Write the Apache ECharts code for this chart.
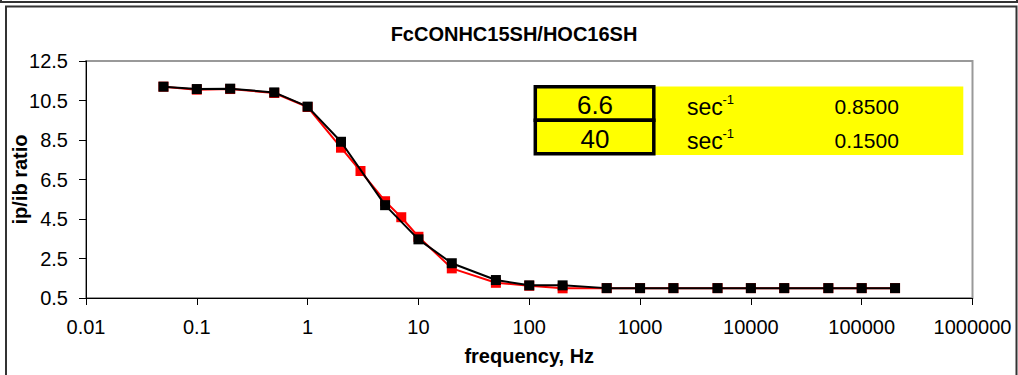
<!DOCTYPE html>
<html>
<head>
<meta charset="utf-8">
<script src="https://cdn.jsdelivr.net/npm/echarts@6/dist/echarts.min.js"></script>
<style>
html,body{margin:0;padding:0;background:#fff;}
#chart{width:1018px;height:375px;}
</style>
</head>
<body>
<div id="chart"></div>
<script>
var chartTitle = 'FcCONHC15SH/HOC16SH';
var xAxisTitle = 'frequency, Hz';
var yAxisTitle = 'ip/ib ratio';
var xTickLabels = ['0.01','0.1','1','10','100','1000','10000','100000','1000000'];

var freqRed  = [0.05,0.1,0.2,0.5,1,2,3,5,7,10,20,50,100,200,500,1000,2000,5000,10000,20000,50000,100000,200000];
var ratioRed = [11.2,11.05,11.08,10.88,10.17,8.11,6.93,5.4,4.59,3.6,2.0,1.27,1.12,0.99,1.0,1.0,1.0,1.0,1.0,1.0,1.0,1.0,1.0];

var freqBlack  = [0.05,0.1,0.2,0.5,1,2,5,10,20,50,100,200,500,1000,2000,5000,10000,20000,50000,100000,200000];
var ratioBlack = [11.2,11.08,11.1,10.91,10.19,8.41,5.2,3.47,2.26,1.41,1.14,1.14,1.0,1.0,1.0,1.0,1.0,1.0,1.0,1.0,1.0];

var tableRates = ['6.6','40'];
var tableUnits = ['sec','sec'];
var tableExps = ['-1','-1'];
var tableFractions = ['0.8500','0.1500'];

function pairs(xs, ys){ return xs.map(function(x,i){ return [x, ys[i]]; }); }

var FONT = "'Liberation Sans', Arial, sans-serif";
var chart = echarts.init(document.getElementById('chart'), null, {renderer:'svg'});

var graphics = [
  {type:'line', shape:{x1:0,y1:2,x2:1018,y2:2}, style:{stroke:'#333',lineWidth:2}},
  {type:'line', shape:{x1:1,y1:0,x2:1,y2:3}, style:{stroke:'#333',lineWidth:2}},
  {type:'line', shape:{x1:1017,y1:0,x2:1017,y2:3}, style:{stroke:'#333',lineWidth:2}},
  {type:'rect', shape:{x:6,y:6.5,width:1010.5,height:380}, style:{fill:null,stroke:'#333',lineWidth:2}},
  {type:'text', x:514, y:33.5, style:{text:chartTitle, font:'bold 20px '+FONT, fill:'#000', align:'center', verticalAlign:'middle'}},
  {type:'rect', shape:{x:535,y:86.5,width:428.3,height:68.5}, style:{fill:'#FFFF00'}, z:10}
];
var rowY = [103.5, 137.5];
for (var i=0;i<tableRates.length;i++){
  graphics.push({type:'rect', shape:{x:535.3,y:(i===0?86.7:120.3),width:118.5,height:(i===0?33.6:33.4)}, style:{fill:'#FFFF00',stroke:'#000',lineWidth:3.5}, z:11});
  graphics.push({type:'text', x:595, y:rowY[i]+1, style:{text:tableRates[i], font:'26px '+FONT, fill:'#000', align:'center', verticalAlign:'middle'}, z:12});
  graphics.push({type:'text', x:687, y:rowY[i]+3, style:{text:tableUnits[i], font:'23px '+FONT, fill:'#000', align:'left', verticalAlign:'middle'}, z:12});
  graphics.push({type:'text', x:722.5, y:rowY[i]-4, style:{text:tableExps[i], font:'13px '+FONT, fill:'#000', align:'left', verticalAlign:'middle'}, z:12});
  graphics.push({type:'text', x:866.7, y:rowY[i]+3, style:{text:tableFractions[i], font:'21px '+FONT, fill:'#000', align:'center', verticalAlign:'middle'}, z:12});
}

var option = {
  animation:false,
  backgroundColor:'#fff',
  textStyle:{fontFamily:FONT},
  grid:{left:86, top:61, right:45.5, bottom:77, show:true, borderColor:'#999', borderWidth:2, backgroundColor:'#fff', containLabel:false, outerBoundsMode:'none'},
  xAxis:{
    type:'log', logBase:10, min:0.01, max:1000000,
    name:xAxisTitle, nameLocation:'middle', nameGap:48, nameMoveOverlap:false,
    nameTextStyle:{fontFamily:FONT, fontSize:20, fontWeight:'bold', color:'#000'},
    axisLine:{show:true, onZero:false, lineStyle:{color:'#000', width:1}},
    axisTick:{show:true, inside:false, length:7, lineStyle:{color:'#000'}},
    minorTick:{show:false},
    splitLine:{show:false},
    axisLabel:{fontFamily:FONT, fontSize:20, color:'#000', margin:19, hideOverlap:false, showMinLabel:true, showMaxLabel:true,
      formatter:function(v){ var k=Math.round(Math.log(v)/Math.LN10)+2; return xTickLabels[k]!==undefined?xTickLabels[k]:String(v); }}
  },
  yAxis:{
    type:'value', min:0.5, max:12.5, interval:2,
    name:yAxisTitle, nameLocation:'middle', nameGap:56, nameRotate:90, nameMoveOverlap:false,
    nameTextStyle:{fontFamily:FONT, fontSize:20, fontWeight:'bold', color:'#000'},
    axisLine:{show:true, lineStyle:{color:'#000', width:1}},
    axisTick:{show:true, inside:false, length:7, lineStyle:{color:'#000'}},
    splitLine:{show:false},
    axisLabel:{fontFamily:FONT, fontSize:20, color:'#000', margin:18, formatter:function(v){return v.toFixed(1);}}
  },
  series:[
    {type:'line', name:'red', data:pairs(freqRed, ratioRed), symbol:'rect', symbolSize:10, showAllSymbol:true,
      itemStyle:{color:'#FF0000'}, lineStyle:{color:'#FF0000', width:2}, z:2},
    {type:'line', name:'black', data:pairs(freqBlack, ratioBlack), symbol:'rect', symbolSize:10, showAllSymbol:true,
      itemStyle:{color:'#000'}, lineStyle:{color:'#000', width:2}, z:3}
  ],
  graphic:graphics
};
chart.setOption(option);
</script>
</body>
</html>
